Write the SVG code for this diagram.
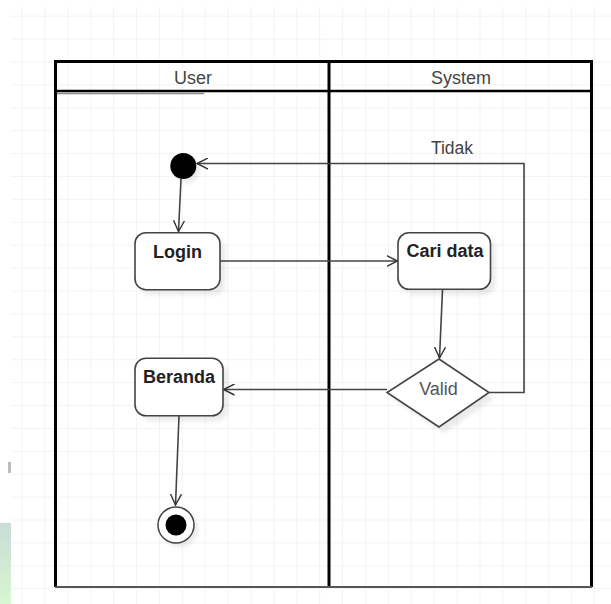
<svg xmlns="http://www.w3.org/2000/svg" width="611" height="604" viewBox="0 0 611 604">
<defs>
  <pattern id="grid" x="21.5" y="15.7" width="22.9" height="22.9" patternUnits="userSpaceOnUse">
    <path d="M0,0 H22.9 M0,0 V22.9" fill="none" stroke="#efefef" stroke-width="1.5"/>
  </pattern>
  <marker id="arr" viewBox="0 0 12 12" refX="11" refY="6" markerWidth="12" markerHeight="12" markerUnits="userSpaceOnUse" orient="auto">
    <path d="M0,0.5 L11,6 L0,11.5" fill="none" stroke="#333" stroke-width="1.4"/>
  </marker>
  <filter id="blur" x="-20%" y="-20%" width="140%" height="140%">
    <feGaussianBlur stdDeviation="2"/>
  </filter>
  <linearGradient id="gr" x1="0" y1="0" x2="0" y2="1">
    <stop offset="0" stop-color="#c9ddd6"/>
    <stop offset="1" stop-color="#d9f5d2"/>
  </linearGradient>
</defs>
<style>
  .lane { fill: none; stroke: #000; stroke-width: 3; }
  .hdr { font-family: "Liberation Sans", Arial, sans-serif; font-size: 18px; fill: #444; text-anchor: middle; }
  .lbl { font-family: "Liberation Sans", Arial, sans-serif; font-size: 18px; font-weight: bold; fill: #222; text-anchor: middle; }
  .box { fill: #fff; stroke: #444; stroke-width: 1.6; }
  .shadow { fill: #000; opacity: 0.08; filter: url(#blur); }
  .conn { fill: none; stroke: #444; stroke-width: 1.6; }
</style>
<rect x="0" y="0" width="611" height="604" fill="#fff"/>
<rect x="11" y="7" width="600" height="597" fill="url(#grid)"/>
<rect x="0" y="523" width="11" height="81" fill="url(#gr)"/>
<rect x="8" y="462" width="3" height="11" fill="#bbb"/>

<g id="swimlanes">
  <line x1="55.5" y1="61.5" x2="591.5" y2="61.5" stroke="#000" stroke-width="3"/>
  <line x1="55.5" y1="91" x2="591.5" y2="91" stroke="#000" stroke-width="2.5"/>
  <line x1="56" y1="93.5" x2="204" y2="93.5" stroke="#888" stroke-width="1.5"/>
  <line x1="55.5" y1="60" x2="55.5" y2="587" class="lane"/>
  <line x1="329" y1="60" x2="329" y2="587" class="lane"/>
  <line x1="591.5" y1="60" x2="591.5" y2="587" class="lane"/>
  <line x1="55" y1="587" x2="592" y2="587" stroke="#555" stroke-width="2"/>
  <text class="hdr" x="193" y="83.5">User</text>
  <text class="hdr" x="461" y="84">System</text>
</g>

<g id="connectors">
  <path class="conn" d="M181,179 L178.5,231.5" marker-end="url(#arr)"/>
  <path class="conn" d="M220,261 L397.5,261" marker-end="url(#arr)"/>
  <path class="conn" d="M442.5,290 L439.5,358" marker-end="url(#arr)"/>
  <path class="conn" d="M387,389.5 L223.5,389.5" marker-end="url(#arr)"/>
  <path class="conn" d="M489,392.5 L524,392.5 L524,163.5 L197,163.5" marker-end="url(#arr)"/>
  <path class="conn" d="M179,416 L175.5,505" marker-end="url(#arr)"/>
  <text class="hdr" x="452" y="153.5" style="font-size:17.5px">Tidak</text>
</g>

<g id="start">
  <circle cx="187" cy="170" r="13" class="shadow"/>
  <circle cx="183.3" cy="166" r="13" fill="#000"/>
</g>

<g id="login">
  <rect x="140" y="238" width="85" height="57" rx="11" class="shadow"/>
  <rect x="135" y="232.7" width="85" height="57" rx="11" class="box"/>
  <text class="lbl" x="177.5" y="257.5">Login</text>
</g>

<g id="cari-data">
  <rect x="403" y="238" width="92.5" height="57" rx="11" class="shadow"/>
  <rect x="398" y="232.7" width="92.5" height="56.6" rx="11" class="box"/>
  <text class="lbl" x="445" y="257">Cari data</text>
</g>

<g id="valid">
  <path d="M444,365 L494,398.5 L444,433 L392,398.5 Z" class="shadow"/>
  <path d="M439,359 L489,392.5 L439,427 L387,392.5 Z" class="box"/>
  <text class="hdr" x="438.5" y="394.5" style="fill:#555">Valid</text>
</g>

<g id="beranda">
  <rect x="140" y="363.5" width="88" height="57.5" rx="11" class="shadow"/>
  <rect x="135" y="358.3" width="88" height="57.5" rx="11" class="box"/>
  <text class="lbl" x="179" y="383">Beranda</text>
</g>

<g id="end">
  <circle cx="180" cy="529" r="18" class="shadow"/>
  <circle cx="176" cy="525" r="18" fill="#fff" stroke="#444" stroke-width="1.5"/>
  <circle cx="176" cy="525" r="10.5" fill="#000"/>
</g>
</svg>
